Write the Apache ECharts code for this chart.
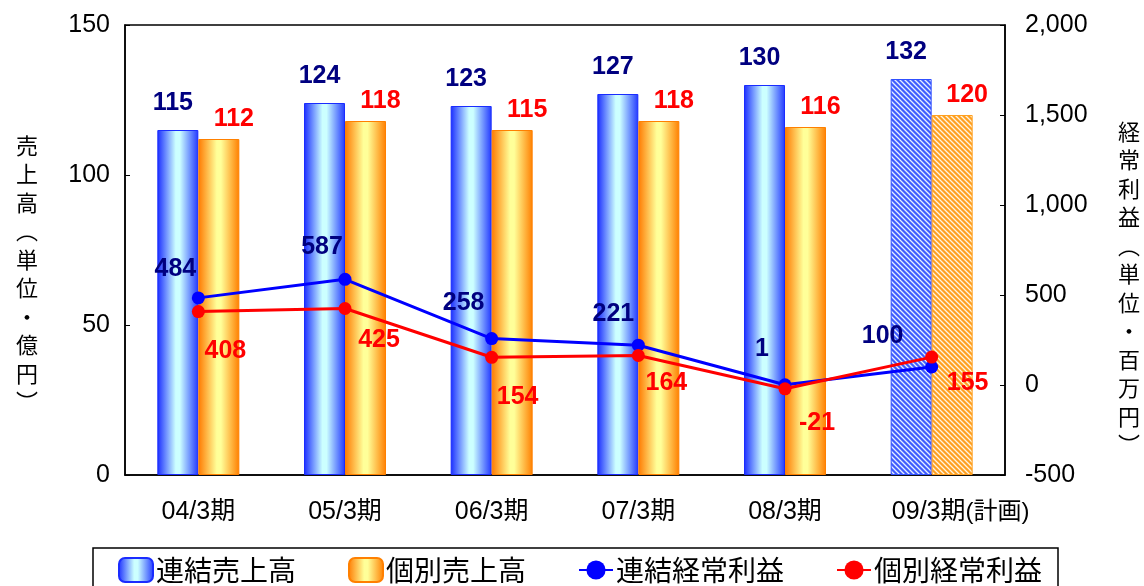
<!DOCTYPE html>
<html><head><meta charset="utf-8">
<script src="https://cdn.jsdelivr.net/npm/echarts@6/dist/echarts.min.js"></script>
<style>html,body{margin:0;padding:0;background:#fff}#c{width:1144px;height:586px}</style>
</head><body><div id="c"></div>
<script>
const categories = ['04/3期','05/3期','06/3期','07/3期','08/3期','09/3期(計画)'];
const consolSales = [115,124,123,127,130,132];
const indivSales = [112,118,115,118,116,120];
const consolProfit = [484,587,258,221,1,100];
const indivProfit = [408,425,154,164,-21,155];
const leftTicks = [0,50,100,150];
const rightTicks = [-500,0,500,1000,1500,2000];

// label offsets (layout only)
const consolOff = [[-23,-29],[-23,-32],[-28,-35],[-25,-31],[-23,-36],[-49,-31]];
const indivOff = [[27,40],[34,32],[26,40],[28,28],[32,34],[36,26]];

const FONT = 'Liberation Sans, Arial, Noto Sans CJK JP, sans-serif';

function hatch(bg, fg){
  const c = document.createElement('canvas'); c.width = 5; c.height = 5;
  const g = c.getContext('2d');
  g.fillStyle = bg; g.fillRect(0,0,5,5);
  g.strokeStyle = fg; g.lineWidth = 1.3;
  g.beginPath();
  g.moveTo(-1,-1); g.lineTo(6,6);
  g.moveTo(-6,-1); g.lineTo(1,6);
  g.moveTo(4,-1); g.lineTo(11,6);
  g.stroke();
  return {image: c, repeat: 'repeat'};
}
const blueGrad = new echarts.graphic.LinearGradient(0,0,1,0,[
  {offset:0,color:'#1a2cff'},{offset:0.45,color:'#ccffff'},{offset:0.55,color:'#ccffff'},{offset:1,color:'#2238ff'}]);
const orangeGrad = new echarts.graphic.LinearGradient(0,0,1,0,[
  {offset:0,color:'#ff7a00'},{offset:0.45,color:'#ffff99'},{offset:0.55,color:'#ffff99'},{offset:1,color:'#ff7f00'}]);
const blueHatch = hatch('#3e5cff','#e8f0ff');
const orangeHatch = hatch('#ffa020','#fff4e0');

const chart = echarts.init(document.getElementById('c'));
const last = categories.length - 1;

chart.setOption({
  animation: false,
  textStyle: {fontFamily: FONT},
  grid: {left:125, right:139, top:25, bottom:111, show:true, borderColor:'#000', borderWidth:1.5, backgroundColor:'transparent'},
  legend: {
    top: 548, left: 93,
    padding: [8, 16, 12, 25],
    borderColor:'#000', borderWidth:1.5,
    itemGap: 52, itemWidth: 34, itemHeight: 24,
    textStyle: {fontSize: 28, color:'#000', fontFamily: 'Noto Sans CJK JP', padding:[0,0,0,-2]},
    data: ['連結売上高','個別売上高','連結経常利益','個別経常利益']
  },
  xAxis: {
    type:'category', data: categories,
    axisLine:{lineStyle:{color:'#000', width:1.5}},
    axisTick:{show:false},
    axisLabel:{
      interval: 0,
      fontSize: 25, color:'#000', margin: 25,
      formatter: function(v){
        const m = v.match(/^(.*)\((.*)\)$/);
        return m ? '{p|}' + m[1] + '{s|(' + m[2] + ')}' : v;
      },
      rich: {p:{width:58}, s:{fontSize:24, color:'#000'}}
    }
  },
  yAxis: [
    {type:'value', min: leftTicks[0], max: leftTicks[leftTicks.length-1], interval: 50,
     splitLine:{show:false},
     axisLine:{show:true, lineStyle:{color:'#000', width:1.5}},
     axisTick:{show:true, inside:true, length:5, lineStyle:{color:'#000'}},
     axisLabel:{fontSize:25, color:'#000', margin:15}},
    {type:'value', min: rightTicks[0], max: rightTicks[rightTicks.length-1], interval: 500,
     position:'right',
     splitLine:{show:false},
     axisLine:{show:true, lineStyle:{color:'#000', width:1.5}},
     axisTick:{show:true, inside:true, length:5, lineStyle:{color:'#000'}},
     axisLabel:{fontSize:25, color:'#000', margin:20,
       formatter: v => v.toLocaleString('en-US')}}
  ],
  graphic: [
    {type:'text', left: 16, top: 131, style:{
      text: ['売','上','高','︵','単','位','・','億','円','︶'].join('\n'),
      font: '22px "Noto Sans CJK JP"', fill:'#000', lineHeight: 28.5, align:'center'}},
    {type:'text', left: 1118, top: 117, style:{
      text: ['経','常','利','益','︵','単','位','・','百','万','円','︶'].join('\n'),
      font: '22px "Noto Sans CJK JP"', fill:'#000', lineHeight: 28.5, align:'center'}}
  ],
  series: [
    {name:'連結売上高', type:'bar', yAxisIndex:0, barWidth:41, barGap:'0%',
     itemStyle:{color: blueGrad, borderColor:'#1a2cff', borderWidth:1},
     label:{show:true, position:'top', distance:14, offset:[-5,0], color:'#000080', fontWeight:'bold', fontSize:25, fontFamily: FONT},
     data: consolSales.map((v,i)=> i===last ? {value:v, itemStyle:{color: blueHatch, borderColor:'#3050ff'}} : v)},
    {name:'個別売上高', type:'bar', yAxisIndex:0, barWidth:41, barGap:'0%',
     itemStyle:{color: orangeGrad, borderColor:'#ff8000', borderWidth:1},
     label:{show:true, position:'top', distance:7, offset:[15,0], color:'#ff0000', fontWeight:'bold', fontSize:25, fontFamily: FONT},
     data: indivSales.map((v,i)=> i===last ? {value:v, itemStyle:{color: orangeHatch, borderColor:'#ffa020'}} : v)},
    {name:'連結経常利益', type:'line', yAxisIndex:1, z:5,
     symbol:'circle', symbolSize:13,
     lineStyle:{color:'#0000ff', width:3}, itemStyle:{color:'#0000ff'},
     data: consolProfit.map((v,i)=>({value:v, label:{show:true, position:'inside', offset:consolOff[i], color:'#000080', fontWeight:'bold', fontSize:25, fontFamily: FONT}}))},
    {name:'個別経常利益', type:'line', yAxisIndex:1, z:6,
     symbol:'circle', symbolSize:13,
     lineStyle:{color:'#ff0000', width:3}, itemStyle:{color:'#ff0000'},
     data: indivProfit.map((v,i)=>({value:v, label:{show:true, position:'inside', offset:indivOff[i], color:'#ff0000', fontWeight:'bold', fontSize:25, fontFamily: FONT}}))}
  ]
});
</script></body></html>
